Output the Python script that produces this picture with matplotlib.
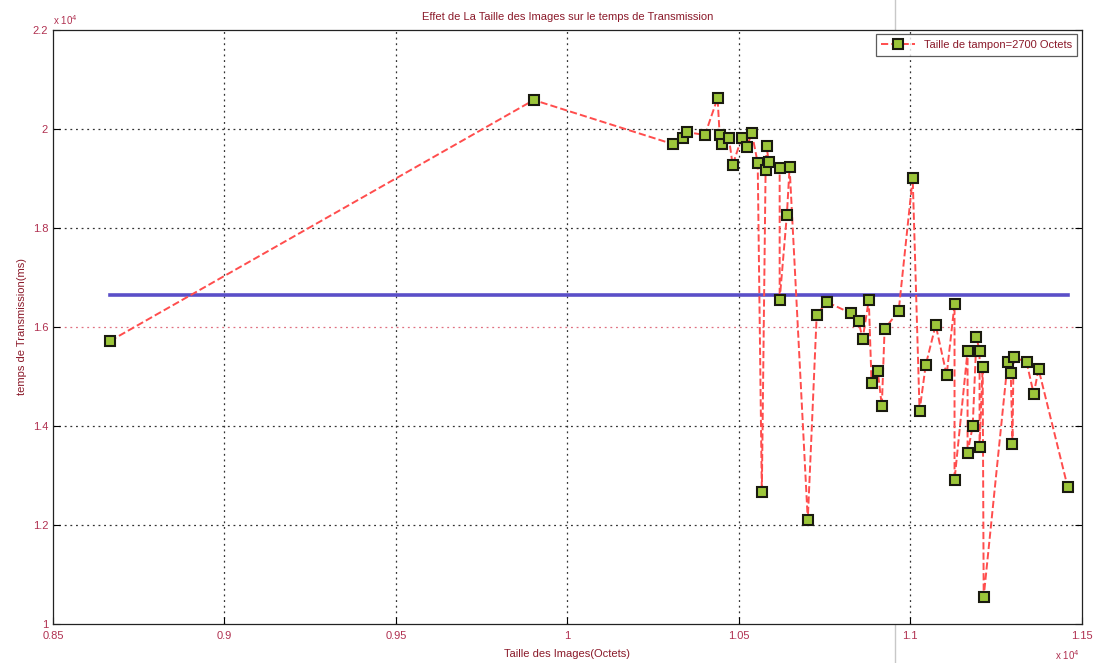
import matplotlib
matplotlib.use("Agg")
import matplotlib.pyplot as plt
from matplotlib.lines import Line2D

plt.rcParams['font.family'] = ['Liberation Sans', 'DejaVu Sans']

# Image size (octets) and transmission time (ms)
taille = [8666, 9902, 10307, 10336, 10348, 10401, 10438, 10444, 10450, 10471,
          10482, 10508, 10523, 10538, 10555, 10567, 10578, 10581, 10587, 10619,
          10619, 10640, 10648, 10701, 10727, 10756, 10826, 10849, 10861, 10879,
          10887, 10905, 10917, 10925, 10966, 11007, 11027, 11045, 11074, 11106,
          11129, 11129, 11167, 11167, 11182, 11193, 11202, 11202, 11211, 11214,
          11284, 11293, 11298, 11301, 11339, 11360, 11374, 11459]
temps = [15717, 20585, 19696, 19817, 19938, 19878, 20625, 19878, 19696, 19817,
         19272, 19817, 19635, 19918, 19312, 12666, 19171, 19656, 19332, 19211,
         16545, 18262, 19231, 12101, 16242, 16504, 16282, 16121, 15757, 16545,
         14868, 15111, 14404, 15959, 16323, 19009, 14303, 15232, 16040, 15030,
         16464, 12909, 15515, 13454, 14000, 15797, 15515, 13575, 15191, 10545,
         15292, 15070, 13636, 15393, 15292, 14646, 15151, 12767]

temps_moyen = 16650

x_ticks = [8500, 9000, 9500, 10000, 10500, 11000, 11500]
x_labels = ['0.85', '0.9', '0.95', '1', '1.05', '1.1', '1.15']
y_ticks = [10000, 12000, 14000, 16000, 18000, 20000, 22000]
y_labels = ['1', '1.2', '1.4', '1.6', '1.8', '2', '2.2']

label_col = '#b03050'
title_col = '#8b1a2a'

fig = plt.figure(figsize=(10.96, 6.63), dpi=100)
ax = fig.add_axes([0.0484, 0.0588, 0.9386, 0.896])

ax.plot(taille, temps, linestyle='--', color='#ff4d4d', linewidth=1.4,
        marker='s', markersize=7, markerfacecolor='#9cc63a',
        markeredgecolor='#1a1a10', markeredgewidth=1.5,
        label='Taille de tampon=2700 Octets', zorder=3)
ax.plot([min(taille), max(taille)], [temps_moyen, temps_moyen],
        color='#5a4fc8', linewidth=2.6, zorder=2)

ax.set_xlim(8500, 11500)
ax.set_ylim(10000, 22000)
ax.set_xticks(x_ticks)
ax.set_xticklabels(x_labels)
ax.set_yticks(y_ticks)
ax.set_yticklabels(y_labels)
ax.tick_params(direction='in', length=5, width=0.8, labelsize=8,
               labelcolor=label_col, top=False, right=True)
ax.tick_params(axis='x', pad=5)

# dotted grid, with the 1.6 line in pink
for xv in x_ticks[1:-1]:
    ax.axvline(xv, color='#333333', linestyle=(0, (1.5, 3)), linewidth=0.9, zorder=1)
for yv in y_ticks[1:-1]:
    c = '#e07080' if yv == 16000 else '#333333'
    ax.axhline(yv, color=c, linestyle=(0, (1.5, 3)), linewidth=0.9, zorder=1)

for s in ax.spines.values():
    s.set_color('#222222')
    s.set_linewidth(0.9)

ax.set_title('Effet de La Taille des Images sur le temps de Transmission',
             fontsize=8, color=title_col, pad=7)
ax.set_xlabel('Taille des Images(Octets)', fontsize=8, color=title_col, labelpad=6)
ax.set_ylabel('temps de Transmission(ms)', fontsize=8, color=title_col, labelpad=4)

ax.text(0.0, 1.005, r'x 10$^4$', transform=ax.transAxes, fontsize=7,
        color=label_col, ha='left', va='bottom')
ax.text(0.998, -0.052, r'x 10$^4$', transform=ax.transAxes, fontsize=7,
        color=label_col, ha='right', va='center')

leg = ax.legend(loc='upper right', fontsize=8, frameon=True, fancybox=False,
                borderpad=0.5, handlelength=3.0, borderaxespad=0.4)
leg.get_frame().set_edgecolor('#333333')
leg.get_frame().set_linewidth(0.9)
for t in leg.get_texts():
    t.set_color(title_col)

# faint vertical scan line across the sheet
fig.add_artist(Line2D([895 / 1096, 895 / 1096], [0, 1], transform=fig.transFigure,
                      color='#c8c8c8', linewidth=1.0, zorder=0))

fig.savefig('out.png', dpi=100, facecolor='white')
